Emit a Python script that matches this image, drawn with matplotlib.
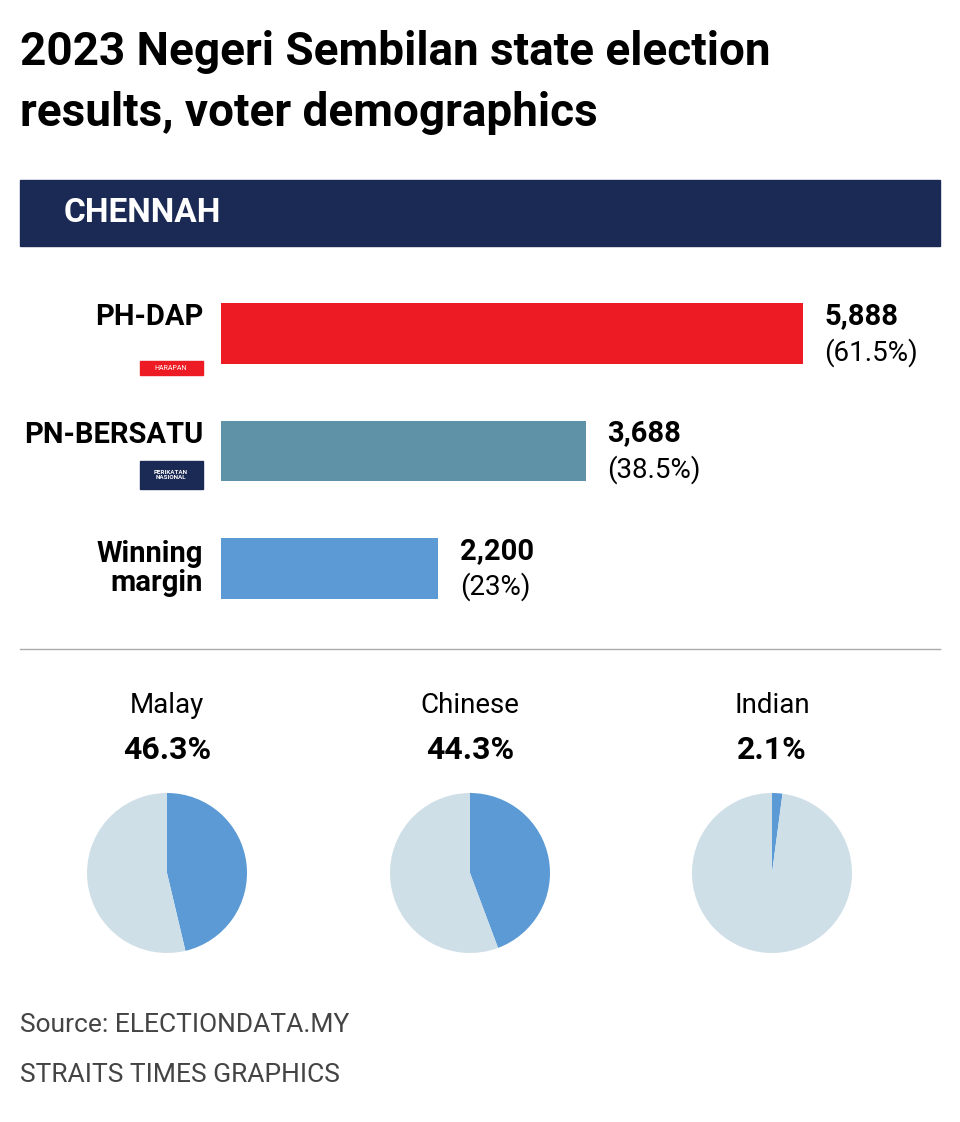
import matplotlib.pyplot as plt
from matplotlib.patches import Rectangle

plt.rcParams['font.family'] = ['Roboto', 'DejaVu Sans']

parties = ["PH-DAP", "PN-BERSATU", "Winning\nmargin"]
votes = [5888, 3688, 2200]
shares = ["(61.5%)", "(38.5%)", "(23%)"]
bar_colors = ["#ed1c24", "#5f92a6", "#5b9ad5"]

groups = ["Malay", "Chinese", "Indian"]
group_pct = [46.3, 44.3, 2.1]

W, H = 960, 1122
fig = plt.figure(figsize=(W / 100, H / 100), dpi=100)
bg = fig.add_axes([0, 0, 1, 1])
bg.set_xlim(0, W)
bg.set_ylim(H, 0)
bg.axis("off")

bg.text(20, 52, "2023 Negeri Sembilan state election", fontsize=33, fontweight="bold", va="center")
bg.text(20, 113, "results, voter demographics", fontsize=33, fontweight="bold", va="center")
bg.add_patch(Rectangle((20, 180), 920, 66, color="#1b2a55"))
bg.text(64, 213, "CHENNAH", fontsize=24, fontweight="bold", color="white", va="center")
bg.plot([20, 940], [649, 649], color="#aaaaaa", lw=1)

# logos
bg.add_patch(Rectangle((140, 361), 63, 14, color="#ed1c24"))
bg.text(171, 368, "HARAPAN", fontsize=5, color="white", ha="center", va="center")
bg.add_patch(Rectangle((140, 461), 63, 28, color="#1b2a55"))
bg.text(171, 475, "PERIKATAN\nNASIONAL", fontsize=4.5, color="white", ha="center", va="center",
        fontweight="bold", linespacing=0.9)

bg.text(20, 1025, "Source: ELECTIONDATA.MY", fontsize=19, color="#444444", va="center")
bg.text(20, 1075, "STRAITS TIMES GRAPHICS", fontsize=19, color="#444444", va="center")

# bars
x0, x1, xend = 221, 803, 940
xmax = votes[0] * (xend - x0) / (x1 - x0)
ax = fig.add_axes([x0 / W, 1 - 627 / H, (xend - x0) / W, (627 - 275) / H])
ypos = [0, 1, 2]
ax.barh(ypos, votes, height=0.515, color=bar_colors)
ax.set_xlim(0, xmax)
ax.set_ylim(2.5, -0.5)
ax.axis("off")
for y, v, s, p in zip(ypos, votes, shares, parties):
    ax.text(v + xmax * 0.03, y - 0.15, f"{v:,}", fontsize=21, fontweight="bold", va="center")
    ax.text(v + xmax * 0.03, y + 0.16, s, fontsize=20, va="center")
    if "\n" in p:
        ax.text(-xmax * 0.025, y, p, fontsize=21, fontweight="bold", ha="right", va="center",
                linespacing=1.05)
    else:
        ax.text(-xmax * 0.025, y - 0.14, p, fontsize=21, fontweight="bold", ha="right", va="center")

# pies
cx = [167, 470, 772]
r = 80
for c, g, pct in zip(cx, groups, group_pct):
    bg.text(c, 705, g, fontsize=20, ha="center", va="center")
    bg.text(c, 750, f"{pct}%", fontsize=23, fontweight="bold", ha="center", va="center")
    pa = fig.add_axes([(c - r) / W, 1 - (873 + r) / H, 2 * r / W, 2 * r / H])
    pa.pie([pct, 100 - pct], colors=["#5b9ad5", "#cfdfe8"], startangle=90, counterclock=False)
    pa.set_xlim(-1, 1)
    pa.set_ylim(-1, 1)
    pa.set_aspect("equal")

fig.savefig("out.png", dpi=100, facecolor="white")
